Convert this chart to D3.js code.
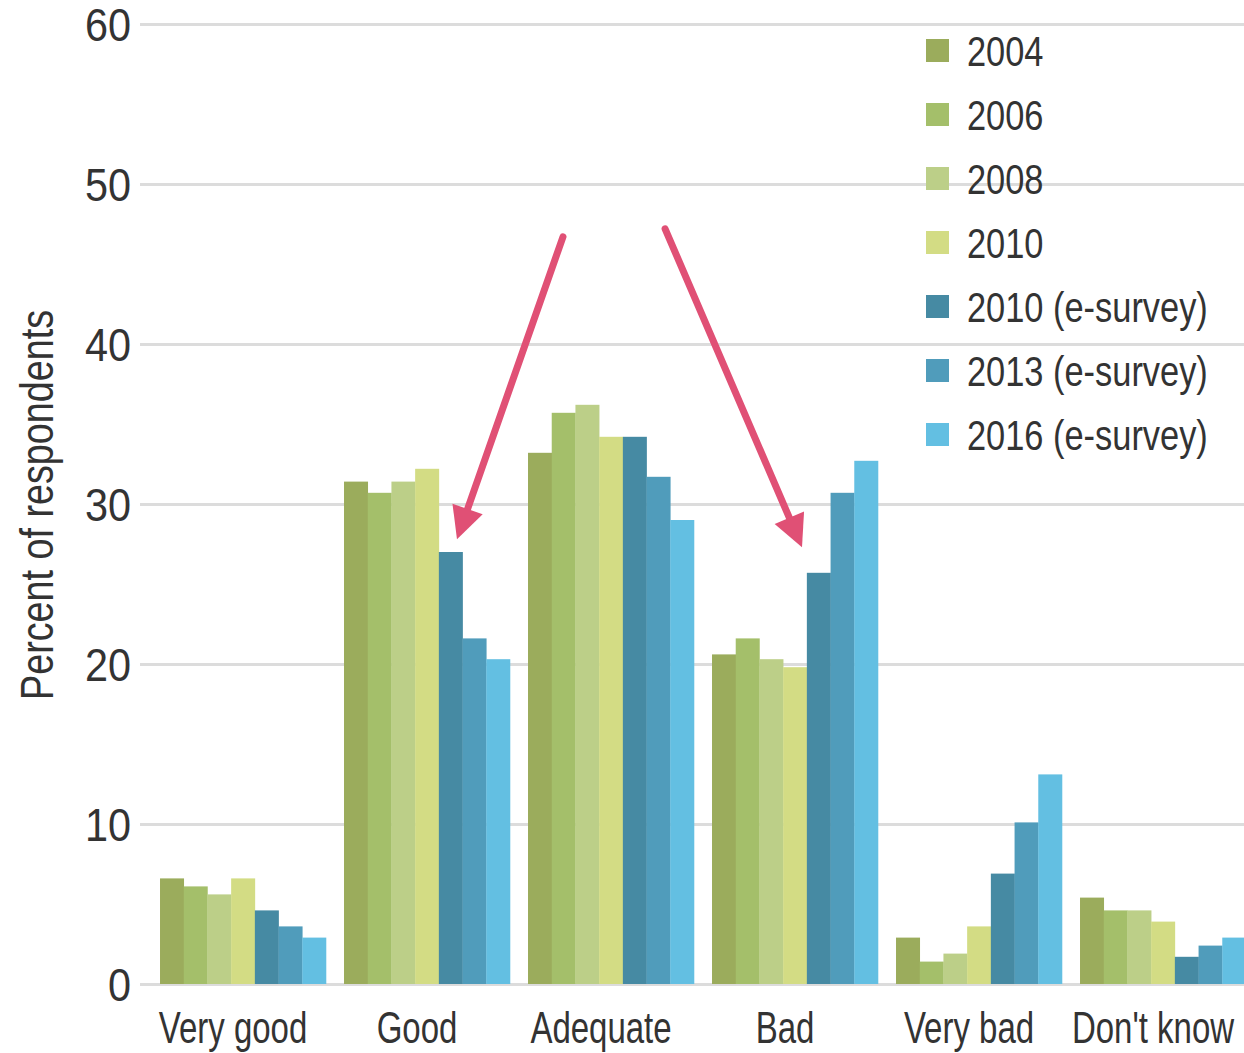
<html>
	<head>
		<style>
			body { margin: 0; background: #fff; }
			text {
				font-family: "Liberation Sans", Arial, sans-serif;
				fill: #333;
			}
			.grid line { stroke: #dcdcdc; stroke-width: 3; }
			.arrow { stroke: #e05075; stroke-width: 7; stroke-linecap: round; fill: none; }
		</style>
		<script src="https://d3js.org/d3.v7.min.js"></script>
	</head>
	<body>
		<svg width="1244" height="1053"></svg>
		<script>
			const categories = ["Very good", "Good", "Adequate", "Bad", "Very bad", "Don't know"];
			const series = ["2004", "2006", "2008", "2010", "2010 (e-survey)", "2013 (e-survey)", "2016 (e-survey)"];
			const colors = ["#9bac5c", "#a4bf6a", "#bccf88", "#d3dc84", "#468aa3", "#509cbb", "#63bfe2"];
			const yTicks = [0, 10, 20, 30, 40, 50, 60];

			// values per category, one per series
			const v2004  = [6.6, 31.4, 33.2, 20.6, 2.9, 5.4];
			const v2006  = [6.1, 30.7, 35.7, 21.6, 1.4, 4.6];
			const v2008  = [5.6, 31.4, 36.2, 20.3, 1.9, 4.6];
			const v2010  = [6.6, 32.2, 34.2, 19.8, 3.6, 3.9];
			const v2010e = [4.6, 27.0, 34.2, 25.7, 6.9, 1.7];
			const v2013e = [3.6, 21.6, 31.7, 30.7, 10.1, 2.4];
			const v2016e = [2.9, 20.3, 29.0, 32.7, 13.1, 2.9];
			const values = [v2004, v2006, v2008, v2010, v2010e, v2013e, v2016e];

			// arrows: category + offset (in bands), value
			const arrows = [
				{from: ["Good", 1.19, 46.7], to: ["Good", 0.614, 27.8]},
				{from: ["Bad", -0.255, 47.2], to: ["Bad", 0.489, 27.3]}
			];

			const svg = d3.select("svg");
			const narrow = 0.8;

			const xs = d3.scaleBand().domain(categories).range([151, 1255]).paddingInner(0.098).paddingOuter(0.049);
			const xs2 = d3.scaleBand().domain(series).range([0, xs.bandwidth()]);
			const ys = d3.scaleLinear().domain([0, 60]).range([984, 24]);

			// grid
			const grid = svg.append("g").attr("class", "grid");
			grid.selectAll("line").data(yTicks).enter().append("line")
				.attr("x1", 140).attr("x2", 1244)
				.attr("y1", d => ys(d) + 0.5).attr("y2", d => ys(d) + 0.5);

			svg.append("g").selectAll("text").data(yTicks).enter().append("text")
				.attr("transform", d => "translate(131," + (ys(d) + 17) + ") scale(0.9,1)")
				.attr("text-anchor", "end")
				.style("font-size", "46px")
				.text(d => d);

			// bars
			const groups = svg.append("g").selectAll("g").data(categories).enter().append("g")
				.attr("transform", d => "translate(" + xs(d) + ",0)");

			groups.selectAll("rect")
				.data((c, ci) => series.map((s, si) => ({s: s, i: si, v: values[si][ci]})))
				.enter().append("rect")
				.attr("x", d => xs2(d.s))
				.attr("width", xs2.bandwidth() + 0.3)
				.attr("y", d => ys(d.v))
				.attr("height", d => ys(0) - ys(d.v))
				.attr("fill", d => colors[d.i]);

			// category labels
			svg.append("g").selectAll("text").data(categories).enter().append("text")
				.attr("transform", d => "translate(" + (xs(d) + xs.bandwidth() / 2 - 10) + ",1043) scale(" + (narrow - 0.05) + ",1)")
				.attr("text-anchor", "middle")
				.style("font-size", "44px")
				.text(d => d);

			// y title
			svg.append("text")
				.attr("transform", "translate(53,505) rotate(-90)")
				.attr("text-anchor", "middle")
				.attr("textLength", 390)
				.attr("lengthAdjust", "spacingAndGlyphs")
				.style("font-size", "46px")
				.text("Percent of respondents");

			// legend
			const legend = svg.append("g").attr("transform", "translate(926,39)");
			const items = legend.selectAll("g").data(series).enter().append("g")
				.attr("transform", (d, i) => "translate(0," + i * 64 + ")");
			items.append("rect").attr("width", 23).attr("height", 23).attr("fill", (d, i) => colors[i]);
			items.append("text")
				.attr("transform", "translate(41,27) scale(" + narrow + ",1)")
				.style("font-size", "43px")
				.text(d => d);

			// arrows
			const px = p => [xs(p[0]) + p[1] * xs.step(), ys(p[2])];
			arrows.forEach(a => {
				const p0 = px(a.from), p1 = px(a.to);
				const dx = p1[0] - p0[0], dy = p1[1] - p0[1];
				const len = Math.sqrt(dx * dx + dy * dy);
				const ux = dx / len, uy = dy / len;
				const hl = 32, hw = 16;
				const bx = p1[0] - ux * hl, by = p1[1] - uy * hl;
				svg.append("line").attr("class", "arrow")
					.attr("x1", p0[0]).attr("y1", p0[1])
					.attr("x2", bx + ux * 4).attr("y2", by + uy * 4);
				svg.append("path")
					.attr("fill", "#e05075")
					.attr("d", "M" + p1[0] + "," + p1[1] +
						"L" + (bx - uy * hw) + "," + (by + ux * hw) +
						"L" + (bx + uy * hw) + "," + (by - ux * hw) + "Z");
			});
		</script>
	</body>
</html>
